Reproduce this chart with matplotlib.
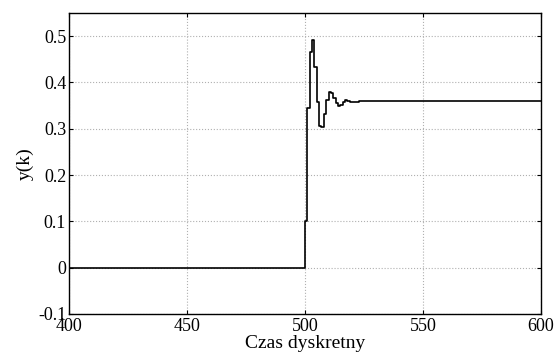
import numpy as np
import matplotlib
matplotlib.use("Agg")
import matplotlib.pyplot as plt

plt.rcParams['font.family'] = ['Liberation Serif', 'DejaVu Serif']

# Sample indices and the system response y(k)
k_start, k_step, k_end = 400, 500, 600
transient = [0.100, 0.345, 0.466, 0.491, 0.434, 0.357, 0.305, 0.303, 0.331,
             0.362, 0.380, 0.378, 0.366, 0.355, 0.349, 0.351, 0.357, 0.362,
             0.361, 0.358, 0.357, 0.357, 0.358]
steady_value = 0.359

x_ticks = [400, 450, 500, 550, 600]
y_ticks = [-0.1, 0, 0.1, 0.2, 0.3, 0.4, 0.5]
y_tick_labels = ['-0.1', '0', '0.1', '0.2', '0.3', '0.4', '0.5']

k = np.arange(k_start, k_end + 1)
y = np.zeros(len(k))
n_tr = len(transient)
y[k_step - k_start:k_step - k_start + n_tr] = transient
y[k_step - k_start + n_tr:] = steady_value

fig = plt.figure(figsize=(5.6, 3.56), dpi=100)
ax = fig.add_axes([0.1232, 0.118, 0.8428, 0.8455])

ax.plot(k, y, drawstyle='steps-post', color='black', linewidth=1.2)

ax.set_xlim(400, 600)
ax.set_ylim(-0.1, 0.55)
ax.set_xticks(x_ticks)
ax.set_yticks(y_ticks)
ax.set_yticklabels(y_tick_labels)
ax.grid(True, linestyle=':', color='#b0b0b0', linewidth=0.8)
ax.tick_params(direction='in', top=True, right=True, length=3,
               labelsize=13, pad=2)
ax.tick_params(axis='x', pad=3)
for s in ax.spines.values():
    s.set_linewidth(1.0)

ax.set_xlabel('Czas dyskretny', fontsize=14, labelpad=0)
ax.set_ylabel('y(k)', fontsize=14, labelpad=3)

fig.savefig('out.png', dpi=100)
